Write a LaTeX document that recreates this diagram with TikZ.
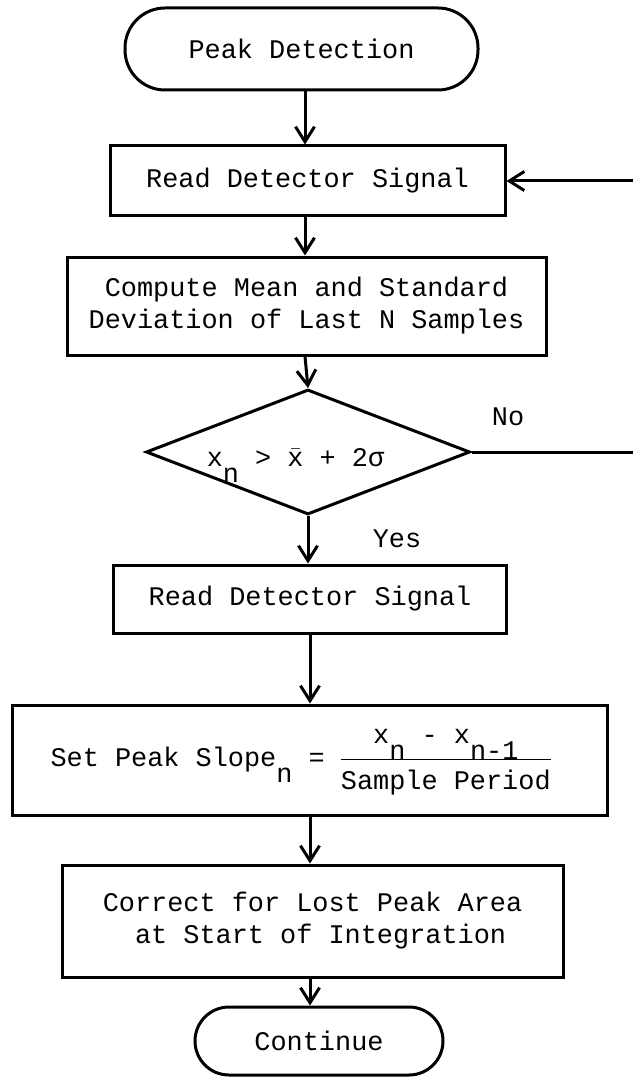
\documentclass[tikz,border=0pt]{standalone}
\usepackage{fontspec}
\setmonofont{Liberation Mono}
\usetikzlibrary{shapes.geometric,arrows.meta}
\newcommand{\lowsub}[1]{\raisebox{-9pt}{#1}}

\begin{document}
\begin{tikzpicture}[
  font=\ttfamily\fontsize{15.3}{18.2}\selectfont,
  box/.style={draw, line width=0.06cm, align=center, inner sep=0pt},
  terminal/.style={box, rounded corners=0.8cm},
  decision/.style={box, diamond},
  flow/.style={line width=0.06cm, -{Straight Barb[length=0.3cm,width=0.38cm,line width=0.06cm]}}]
\useasboundingbox (0,0) rectangle (12.64,-21.54);

\coordinate (axis) at (6.1,0);

\node[terminal, minimum width=7.06cm, minimum height=1.64cm] (start) at (6.03,-0.98) {Peak Detection};
\node[box, minimum width=7.9cm, minimum height=1.4cm] (read1) at (6.15,-3.62) {Read Detector Signal};
\node[box, minimum width=9.58cm, minimum height=1.96cm] (stats) at (6.13,-6.12) {Compute Mean and Standard\\Deviation of Last N Samples};
\node[decision, minimum width=6.48cm, minimum height=2.5cm] (test) at (6.16,-9.04) {\smash{\raisebox{-8.5pt}{\makebox[0pt]{\hspace{-0.5cm}x\lowsub{n} > $\bar{\mbox{x}}$ + 2σ}}}};
\node[box, minimum width=7.86cm, minimum height=1.36cm] (read2) at (6.2,-11.98) {Read Detector Signal};
\node[box, minimum width=11.88cm, minimum height=2.2cm] (slope) at (6.2,-15.2) {Set Peak Slope\lowsub{n} = \begin{tabular}[c]{@{}c@{}}x\lowsub{n} - x\lowsub{n-1}\\[2pt]\hline\rule{0pt}{17pt}Sample Period\end{tabular}\hspace{0.7em}};
\node[box, minimum width=10.02cm, minimum height=2.24cm] (correct) at (6.25,-18.42) {Correct for Lost Peak Area\\\ at Start of Integration};
\node[terminal, minimum width=4.96cm, minimum height=1.36cm, rounded corners=0.68cm] (stop) at (6.38,-20.82) {Continue};

\node (no) at (10.16,-8.34) {No};
\node (yes) at (7.94,-10.78) {Yes};

\draw[flow] (start.south -| axis) -- (read1.north -| axis);
\draw[flow] (read1.south -| axis) -- (stats.north -| axis);
\draw[flow] (stats.south -| axis) -- (test.north);
\draw[flow] (test.south) -- (read2.north -| test.south);
\draw[flow] (read2.south -| read2.center) -- (slope.north -| read2.center);
\draw[flow] (slope.south -| read2.center) -- (correct.north -| read2.center);
\draw[flow] (correct.south -| read2.center) -- (stop.north -| read2.center);

\coordinate (loop) at (13.0,-9.04);
\draw[flow] (test.east) -- (loop) |- (read1.east);

\end{tikzpicture}
\end{document}
